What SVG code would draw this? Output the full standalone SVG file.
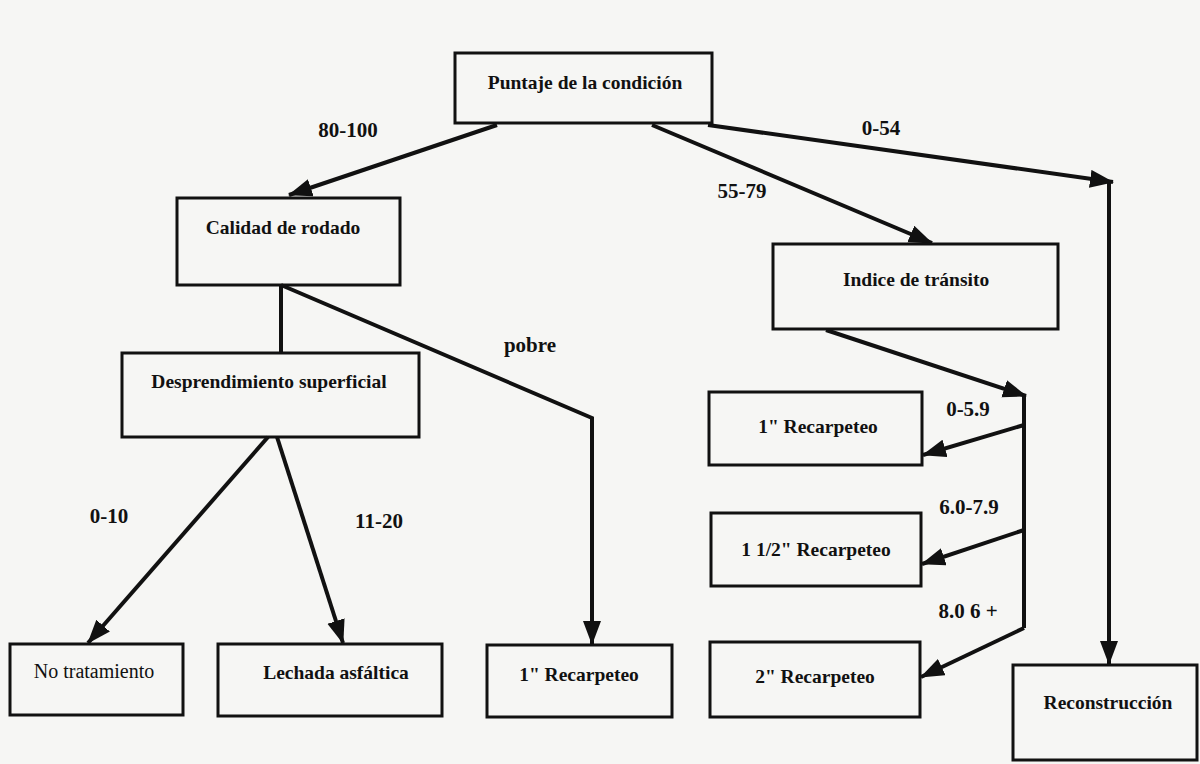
<svg xmlns="http://www.w3.org/2000/svg" width="1200" height="764" viewBox="0 0 1200 764">
<defs>
<style>
.box{fill:none;stroke:#111;stroke-width:3}
.t{font-family:"Liberation Serif","Times New Roman",serif;font-weight:bold;font-size:19.5px;fill:#111;text-anchor:middle}
.n{font-weight:normal;font-size:20px}
.lbl{font-family:"Liberation Serif","Times New Roman",serif;font-weight:bold;font-size:21px;fill:#111;text-anchor:middle}
.c{fill:none;stroke:#111;stroke-width:4;stroke-linejoin:miter}
</style>
<marker id="ah" markerUnits="userSpaceOnUse" markerWidth="24" markerHeight="19" refX="23" refY="9" orient="auto">
<path d="M0,0 L24,9 L0,18 z" fill="#111"/>
</marker>
</defs>
<rect width="1200" height="764" fill="#f6f6f4"/>
<g id="connectors">
<path class="c" d="M497,125 L289,195" marker-end="url(#ah)"/>
<path class="c" d="M652,125 L932,243" marker-end="url(#ah)"/>
<path class="c" d="M708,125 L1113,182" marker-end="url(#ah)"/>
<path class="c" d="M1109,180 L1109,664" marker-end="url(#ah)"/>
<path class="c" d="M281,285 L281,352"/>
<path class="c" d="M281,285 L592,418 L592,644" marker-end="url(#ah)"/>
<path class="c" d="M268,437 L88,643" marker-end="url(#ah)"/>
<path class="c" d="M277,437 L343,643" marker-end="url(#ah)"/>
<path class="c" d="M826,330 L1026,396" marker-end="url(#ah)"/>
<path class="c" d="M1024,394 L1024,628"/>
<path class="c" d="M1024,425 L923,455" marker-end="url(#ah)"/>
<path class="c" d="M1024,530 L922,564" marker-end="url(#ah)"/>
<path class="c" d="M1024,628 L921,677" marker-end="url(#ah)"/>
<text class="lbl" x="348" y="137">80-100</text>
<text class="lbl" x="881" y="135">0-54</text>
<text class="lbl" x="742" y="198">55-79</text>
<text class="lbl" x="530" y="352">pobre</text>
<text class="lbl" x="109" y="523">0-10</text>
<text class="lbl" x="379" y="528">11-20</text>
<text class="lbl" x="968" y="416">0-5.9</text>
<text class="lbl" x="969" y="514">6.0-7.9</text>
<text class="lbl" x="968" y="618">8.0 6 +</text>
</g>
<g id="n-puntaje"><rect class="box" x="455" y="53" width="257" height="70"/><text class="t" x="585" y="89">Puntaje de la condición</text></g>
<g id="n-calidad"><rect class="box" x="177" y="198" width="223" height="87"/><text class="t" x="283" y="234">Calidad de rodado</text></g>
<g id="n-desprendimiento"><rect class="box" x="122" y="353" width="297" height="84"/><text class="t" x="269" y="388">Desprendimiento superficial</text></g>
<g id="n-indice"><rect class="box" x="773" y="244" width="285" height="85"/><text class="t" x="916" y="286">Indice de tránsito</text></g>
<g id="n-rec1-right"><rect class="box" x="709" y="392" width="213" height="73"/><text class="t" x="818" y="433">1" Recarpeteo</text></g>
<g id="n-rec15"><rect class="box" x="711" y="513" width="210" height="73"/><text class="t" x="816" y="556">1 1/2" Recarpeteo</text></g>
<g id="n-rec2"><rect class="box" x="710" y="642" width="210" height="75"/><text class="t" x="815" y="683">2" Recarpeteo</text></g>
<g id="n-reconstruccion"><rect class="box" x="1013" y="665" width="184" height="95"/><text class="t" x="1108" y="709">Reconstrucción</text></g>
<g id="n-notratamiento"><rect class="box" x="10" y="644" width="173" height="71"/><text class="t n" x="94" y="678">No tratamiento</text></g>
<g id="n-lechada"><rect class="box" x="218" y="644" width="224" height="72"/><text class="t" x="336" y="679">Lechada asfáltica</text></g>
<g id="n-rec1-mid"><rect class="box" x="487" y="645" width="185" height="72"/><text class="t" x="579" y="681">1" Recarpeteo</text></g>
</svg>
